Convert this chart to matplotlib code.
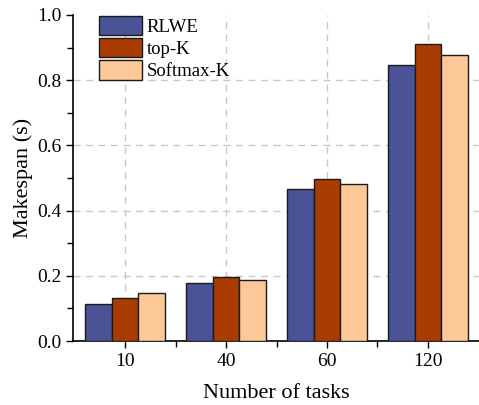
import numpy as np
import matplotlib.pyplot as plt
from matplotlib.ticker import MultipleLocator

plt.rcParams['font.family'] = ['Liberation Serif', 'DejaVu Serif']

tasks = ['10', '40', '60', '120']
rlwe = [0.115, 0.177, 0.466, 0.846]
top_k = [0.133, 0.195, 0.497, 0.910]
softmax_k = [0.148, 0.186, 0.483, 0.876]

series = [('RLWE', rlwe, '#4A5396'),
          ('top-K', top_k, '#A93C00'),
          ('Softmax-K', softmax_k, '#FDC897')]

fig = plt.figure(figsize=(4.79, 4.05), dpi=100)
ax = fig.add_axes([0.1524, 0.158, 0.8476, 0.805])

x = np.arange(len(tasks))
width = 0.267
for i, (name, vals, color) in enumerate(series):
    ax.bar(x + (i - 1) * width, vals, width, color=color, edgecolor='#1a1a1a',
           linewidth=1.0, label=name, zorder=3)

ax.set_xlim(-0.515, 3.505)
ax.set_ylim(0, 1.0)
ax.set_xticks(x)
ax.set_xticklabels(tasks)
ax.set_xticks(x[:-1] + 0.5, minor=True)
ax.yaxis.set_major_locator(MultipleLocator(0.2))
ax.yaxis.set_minor_locator(MultipleLocator(0.1))
ax.yaxis.set_major_formatter(plt.FormatStrFormatter('%.1f'))

ax.tick_params(axis='both', which='major', direction='out', length=5, width=1,
               labelsize=14)
ax.tick_params(axis='both', which='minor', direction='out', length=4, width=1)

for side in ['top', 'right']:
    ax.spines[side].set_visible(False)
for side in ['left', 'bottom']:
    ax.spines[side].set_linewidth(1.2)

# dashed grid: vertical at categories, horizontal at inner y ticks
grid_style = dict(color='#C8C8C8', linestyle=(0, (5, 4)), linewidth=1, zorder=0)
for xv in x:
    ax.axvline(xv, **grid_style)
for yv in [0.2, 0.4, 0.6, 0.8]:
    ax.axhline(yv, **grid_style)

ax.set_xlabel('Number of tasks', fontsize=16, labelpad=10)
ax.set_ylabel('Makespan (s)', fontsize=16, labelpad=3)

ax.legend(loc='upper left', bbox_to_anchor=(0.045, 1.02), frameon=False,
          fontsize=13.5, handlelength=2.3, handleheight=1.2, labelspacing=0.12,
          handletextpad=0.25, borderaxespad=0)

fig.savefig('out.png', dpi=100)
